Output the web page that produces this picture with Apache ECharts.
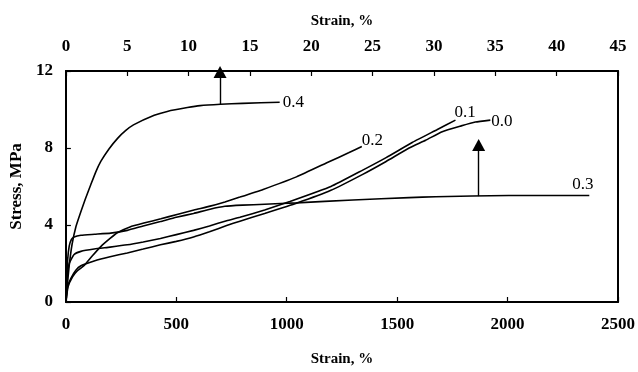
<!DOCTYPE html>
<html>
<head>
<meta charset="utf-8">
<script src="https://cdn.jsdelivr.net/npm/echarts@6/dist/echarts.min.js"></script>
<style>
html,body{margin:0;padding:0;background:#fff;}
#chart{width:638px;height:372px;}
</style>
</head>
<body>
<div id="chart"></div>
<script>
// Bottom axis: Strain, %  (0-2500); top axis: Strain, % (0-45); left: Stress, MPa
const bottomTicks = {min: 0, max: 2500, interval: 500};
const topTicks = {min: 0, max: 45, interval: 5};
const stressTicks = {min: 0, max: 12, interval: 4};

const seriesNames = ['0.0', '0.1', '0.2', '0.3', '0.4'];

const curve00 = [[0,0],[8,0.8],[22,1.22],[45,1.65],[68,1.88],[128,2.13],[200,2.35],[278,2.55],[350,2.75],[428,2.97],[500,3.15],[578,3.38],[650,3.65],[728,3.97],[788,4.2],[900,4.6],[1044,5.13],[1200,5.8],[1344,6.63],[1450,7.3],[1554,8.0],[1629,8.4],[1704,8.85],[1790,9.15],[1854,9.35],[1922,9.45]];
const curve01 = [[0,0],[5,1.2],[15,2.0],[37,2.47],[68,2.63],[128,2.75],[200,2.85],[278,2.97],[350,3.12],[428,3.3],[500,3.5],[578,3.72],[650,3.95],[728,4.22],[788,4.4],[900,4.78],[1014,5.22],[1200,6.0],[1344,6.85],[1450,7.5],[1570,8.3],[1680,8.95],[1764,9.45]];
const curve02 = [[0,0],[10,0.8],[30,1.3],[50,1.6],[83,1.9],[120,2.4],[158,2.88],[200,3.3],[233,3.6],[290,3.9],[353,4.1],[430,4.32],[503,4.55],[580,4.78],[653,4.98],[720,5.2],[788,5.45],[893,5.85],[1044,6.5],[1194,7.3],[1280,7.75],[1340,8.08]];
const curve03 = [[0,0],[3,1.0],[8,2.2],[15,2.9],[25,3.25],[37,3.38],[68,3.47],[130,3.52],[203,3.58],[278,3.72],[350,3.95],[428,4.18],[500,4.4],[578,4.6],[653,4.82],[720,4.97],[800,5.03],[900,5.08],[1044,5.15],[1300,5.3],[1554,5.42],[1674,5.47],[2005,5.53],[2370,5.53]];
const curve04 = [[0,0],[6,0.8],[15,1.9],[28,3.0],[45,3.9],[65,4.6],[88,5.35],[113,6.1],[135,6.75],[158,7.3],[195,7.95],[234,8.5],[270,8.9],[306,9.2],[400,9.7],[459,9.9],[550,10.1],[608,10.2],[700,10.27],[800,10.32],[968,10.38]];

// Annotation arrows: [strain, stress] from -> to
const arrowA = [[698, 10.28], [698, 11.95]];
const arrowB = [[1869, 5.5], [1869, 8.15]];

const curves = [curve00, curve01, curve02, curve03, curve04];
const labelOffsets = [[-2, 1], [-4, -8], [-3, -6], [-20, -11], [0, 0]];

const serif = '"Liberation Serif", "DejaVu Serif", serif';

const chart = echarts.init(document.getElementById('chart'));

const series = curves.map((c, i) => ({
  name: seriesNames[i],
  type: 'line',
  data: c,
  xAxisIndex: 0,
  yAxisIndex: 0,
  showSymbol: false,
  symbol: 'none',
  smooth: 0.15,
  lineStyle: {color: '#000', width: 1.6},
  endLabel: {
    show: true,
    formatter: seriesNames[i],
    color: '#000',
    fontFamily: serif,
    fontSize: 17,
    distance: 3,
    offset: labelOffsets[i]
  },
  silent: true,
  animation: false
}));

function arrowSeries(a) {
  return {
    type: 'line',
    data: [],
    xAxisIndex: 0,
    yAxisIndex: 0,
    silent: true,
    animation: false,
    markLine: {
      silent: true,
      animation: false,
      label: {show: false},
      lineStyle: {color: '#000', width: 1.4, type: 'solid'},
      symbol: ['none', 'triangle'],
      symbolSize: [13, 12],
      data: [[{coord: a[0]}, {coord: a[1]}]]
    }
  };
}
series.push(arrowSeries(arrowA));
series.push(arrowSeries(arrowB));

const plainNum = v => String(v);

const axisBase = {
  axisLine: {show: true, onZero: false, lineStyle: {color: '#000', width: 2}},
  axisTick: {show: true, inside: true, length: 5, lineStyle: {color: '#000', width: 1.2}},
  splitLine: {show: false},
  nameTextStyle: {color: '#000', fontFamily: serif, fontWeight: 'bold', fontSize: 15},
  axisLabel: {color: '#000', fontFamily: serif, fontWeight: 'bold', fontSize: 17, formatter: plainNum}
};

chart.setOption({
  backgroundColor: '#fff',
  animation: false,
  grid: {left: 65, right: 18, top: 71, bottom: 61, containLabel: false},
  xAxis: [
    Object.assign({}, axisBase, {
      type: 'value', position: 'bottom',
      min: bottomTicks.min, max: bottomTicks.max, interval: bottomTicks.interval,
      name: 'Strain, %', nameLocation: 'middle', nameGap: 50,
      axisLabel: Object.assign({}, axisBase.axisLabel, {margin: 14})
    }),
    Object.assign({}, axisBase, {
      type: 'value', position: 'top',
      min: topTicks.min, max: topTicks.max, interval: topTicks.interval,
      name: 'Strain, %', nameLocation: 'middle', nameGap: 42,
      axisLabel: Object.assign({}, axisBase.axisLabel, {margin: 16})
    })
  ],
  yAxis: [
    Object.assign({}, axisBase, {
      type: 'value', position: 'left',
      min: stressTicks.min, max: stressTicks.max, interval: stressTicks.interval,
      name: 'Stress, MPa', nameLocation: 'middle', nameGap: 38,
      nameTextStyle: {color: '#000', fontFamily: serif, fontWeight: 'bold', fontSize: 17},
      axisLabel: Object.assign({}, axisBase.axisLabel, {margin: 13})
    }),
    Object.assign({}, axisBase, {
      type: 'value', position: 'right',
      min: stressTicks.min, max: stressTicks.max, interval: stressTicks.interval,
      axisTick: {show: false},
      axisLabel: {show: false}
    })
  ],
  series: series
});
</script>
</body>
</html>
